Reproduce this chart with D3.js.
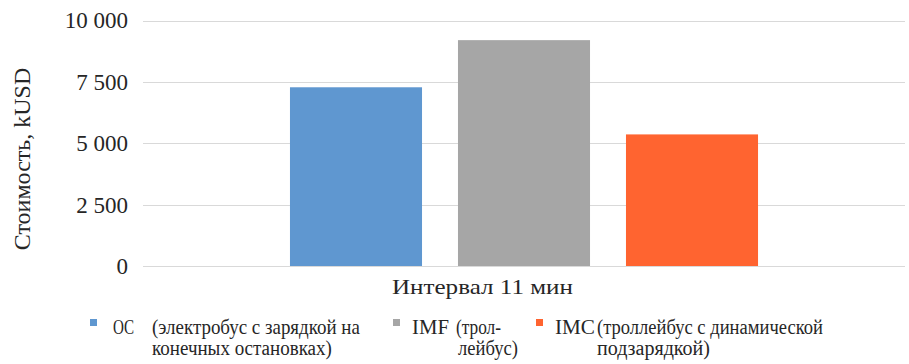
<!DOCTYPE html>
<html>
<head>
<meta charset="utf-8">
<script src="https://cdn.jsdelivr.net/npm/d3@7"></script>
<style>
  body { margin: 0; background: #fff; }
</style>
</head>
<body>
<div id="chart"></div>
<script>
// data
const categories = ['Интервал 11 мин'];
const seriesKeys = ['OC', 'IMF', 'IMC'];
const seriesValues = [7280, 9200, 5360];
const seriesColors = ['#5f97d0', '#a6a6a6', '#ff6430'];
const legendNotes = [
  ['(электробус с зарядкой на', 'конечных остановках)'],
  ['(трол-', 'лейбус)'],
  ['(троллейбус с динамической', 'подзарядкой)']
];
const yTicks = [0, 2500, 5000, 7500, 10000];

const width = 909;
const height = 364;
const plot = { left: 143, right: 905, top: 20.5, bottom: 266 };
const fontName = 'Liberation Serif';
const ink = '#262626';

const svg = d3
  .select('#chart')
  .append('svg')
  .attr('width', width)
  .attr('height', height)
  .attr('font-family', fontName);

// squeeze/stretch a text horizontally to a given width (textLength swaps the font here)
function fitText(sel, x, y, w) {
  const len = sel.node().getComputedTextLength();
  const sx = len > 0 ? w / len : 1;
  sel.attr('transform', `translate(${x},${y}) scale(${sx},1)`);
}

const y = d3.scaleLinear().domain([0, 10000]).range([plot.bottom, plot.top]);

const x0 = d3
  .scaleBand()
  .domain(categories)
  .range([plot.left, plot.right])
  .paddingOuter(0.314);

const x1 = d3
  .scaleBand()
  .domain(seriesKeys)
  .range([0, x0.bandwidth()])
  .paddingInner(0.214);

const fmt = (v) => d3.format(',')(v).replace(/,/g, ' ');

// gridlines
svg
  .append('g')
  .selectAll('line')
  .data(yTicks)
  .enter()
  .append('line')
  .attr('x1', plot.left)
  .attr('x2', plot.right)
  .attr('y1', (d) => Math.round(y(d)) + 0.5)
  .attr('y2', (d) => Math.round(y(d)) + 0.5)
  .attr('stroke', '#d9d9d9')
  .attr('stroke-width', 1.2);

// y axis labels
const yAxis = d3.axisLeft(y).tickValues(yTicks).tickFormat(fmt).tickSize(0).tickPadding(15);
const yg = svg
  .append('g')
  .attr('transform', `translate(${plot.left},0)`)
  .call(yAxis)
  .attr('font-family', fontName)
  .attr('font-size', 23);
yg.select('.domain').remove();
yg.selectAll('text').attr('font-family', fontName).attr('fill', ink);

// bars
const cat = svg
  .append('g')
  .selectAll('g')
  .data(categories)
  .enter()
  .append('g')
  .attr('transform', (d) => `translate(${x0(d)},0)`);

cat
  .selectAll('rect')
  .data(seriesKeys.map((k, i) => ({ key: k, value: seriesValues[i], color: seriesColors[i] })))
  .enter()
  .append('rect')
  .attr('x', (d) => x1(d.key))
  .attr('width', x1.bandwidth())
  .attr('y', (d) => y(d.value))
  .attr('height', (d) => y(0) - y(d.value))
  .attr('fill', (d) => d.color);

// category label
const catLabel = svg
  .append('text')
  .attr('fill', ink)
  .attr('font-family', fontName)
  .attr('font-size', 21)
  .text(categories[0]);
fitText(catLabel, 392, 294, 181);

// y axis title
svg
  .append('text')
  .attr('transform', 'translate(30,159) rotate(-90)')
  .attr('text-anchor', 'middle')
  .attr('fill', ink)
  .attr('font-family', fontName)
  .attr('font-size', 24)
  .text('Стоимость, kUSD');

// legend
const legendX = [90, 393, 536];
const keyLen = [21, 37, 40];
const noteX = [152, 456, 597];
const noteLen = [[208, 180], [45, 60], [226, 113]];

const leg = svg
  .append('g')
  .selectAll('g')
  .data(seriesKeys)
  .enter()
  .append('g')
  .attr('transform', (d, i) => `translate(${legendX[i]},0)`);

leg
  .append('rect')
  .attr('x', 0)
  .attr('y', 319)
  .attr('width', 7)
  .attr('height', 7)
  .attr('fill', (d, i) => seriesColors[i]);

leg.each(function (d, i) {
  const g = d3.select(this);
  const key = g
    .append('text')
    .attr('fill', ink)
    .attr('font-family', fontName)
    .attr('font-size', 21)
    .text(d);
  fitText(key, i === 0 ? 23 : 19, 334, keyLen[i]);

  legendNotes[i].forEach((line, j) => {
    const t = g
      .append('text')
      .attr('fill', ink)
      .attr('font-family', fontName)
      .attr('font-size', 20)
      .text(line);
    fitText(t, noteX[i] - legendX[i] + (i === 1 && j === 1 ? 2 : 0), 334 + j * 21, noteLen[i][j]);
  });
});
</script>
</body>
</html>
